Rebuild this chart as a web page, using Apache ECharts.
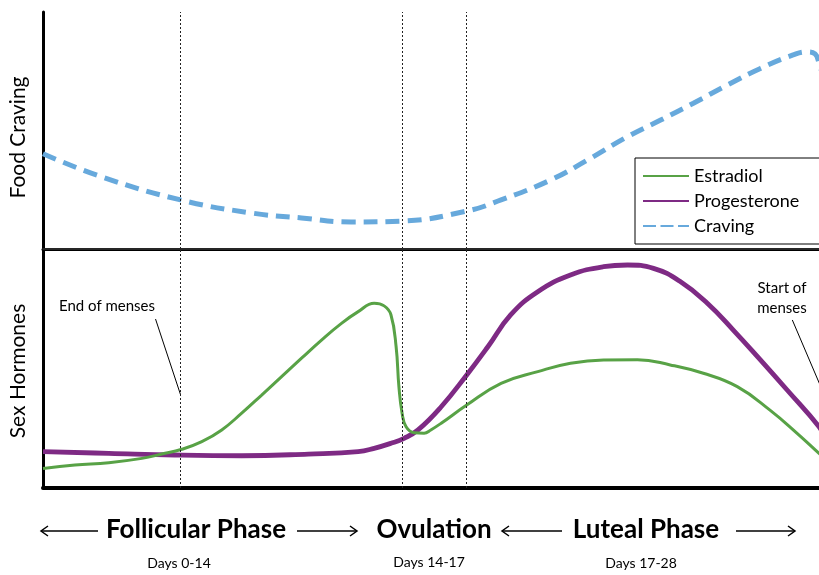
<!DOCTYPE html>
<html>
<head>
<meta charset="utf-8">
<script src="https://cdn.jsdelivr.net/npm/echarts@6/dist/echarts.min.js"></script>
<style>
html,body{margin:0;padding:0;background:#fff;overflow:hidden;width:819px;height:575px;}
#chart{width:841px;height:575px;}
</style>
</head>
<body>
<div id="chart"></div>
<script>
// Cycle position (arbitrary units 0-100 across the plot)
var cravingX = [0, 7.4, 17.25, 26.1, 32.4, 38.6, 45, 53.1, 57.4, 63.6, 68.25, 73.25, 77.4, 81.5, 85.75, 89.9, 94.0, 95.75, 96.75, 97.25, 98.0, 99.0];
var cravingY = [40.2, 30.4, 20.7, 15.2, 13.1, 11.4, 11.8, 16.0, 20.7, 29.1, 37.6, 47.4, 54.4, 61.5, 69.2, 76.2, 81.9, 83.2, 82.3, 78.4, 70.0, 60.0];

var estradiolX = [0, 4.0, 8.25, 12.4, 14.9, 17.4, 19.9, 22.4, 24.9, 27.4, 29.9, 32.4, 34.9, 37.4, 39.5, 41.5, 42.75, 43.6, 44.25, 44.6, 45.0, 45.5, 46.5, 47.75, 48.6, 49.9, 53.1, 57.4, 62.0, 66.1, 70.25, 74.5, 78.6, 82.75, 87.0, 91.1, 94.5, 97.25, 98.6];
var estradiolY = [8.2, 9.6, 10.6, 12.4, 14.2, 16.2, 19.4, 24.3, 31.3, 38.9, 46.6, 54.3, 61.9, 68.9, 73.8, 77.3, 76.2, 72.5, 59.1, 42.4, 31.3, 25.6, 23.1, 22.9, 24.3, 27.1, 34.7, 43.8, 48.7, 52.2, 53.6, 53.7, 51.5, 48.0, 42.4, 32.6, 22.9, 14.5, 10.5];

var progesteroneX = [0, 8.25, 16.5, 24.9, 33.25, 39.5, 41.5, 43.6, 45.25, 47.0, 49.9, 53.1, 55.75, 58.6, 62.0, 66.1, 70.25, 73.25, 76.5, 79.9, 83.25, 86.5, 89.9, 93.25, 97.25, 98.6];
var progesteroneY = [15.2, 14.5, 13.8, 13.5, 14.2, 15.2, 16.6, 18.7, 20.8, 24.3, 34.0, 47.3, 59.1, 72.4, 82.1, 89.1, 92.6, 93.3, 91.9, 86.3, 77.3, 66.1, 53.6, 41.0, 25.6, 18.0];

// Phase boundaries (dotted lines)
var boundaries = [17.25, 45, 53.1];

var phaseLabels = ['Follicular Phase', 'Ovulation', 'Luteal Phase'];
var dayLabels = ['Days 0-14', 'Days 14-17', 'Days 17-28'];
var seriesNames = ['Estradiol', 'Progesterone', 'Craving'];
var axisNames = ['Food Craving', 'Sex Hormones'];

function pairs(xs, ys) { return xs.map(function (x, i) { return [x, ys[i]]; }); }

var GREEN = '#58a246', PURPLE = '#7e2a84', BLUE = '#67a9dc';
var FONT = 'Lato';

var chart = echarts.init(document.getElementById('chart'), null, {renderer: 'canvas'});

var vlines = boundaries.map(function (b) { return {xAxis: b}; });
var dottedML = {
  silent: true, symbol: 'none', label: {show: false},
  lineStyle: {type: [2, 2], color: '#222', width: 1},
  data: vlines
};

function arrow(x1, x2, y, headLeft) {
  var hx = headLeft ? x1 : x2;
  var d = headLeft ? 7 : -7;
  return [
    {type: 'line', shape: {x1: x1, y1: y, x2: x2, y2: y}, style: {stroke: '#000', lineWidth: 1.5}},
    {type: 'polyline', shape: {points: [[hx + d, y - 5], [hx, y], [hx + d, y + 5]]}, style: {stroke: '#000', lineWidth: 1.5, fill: null}}
  ];
}

function txt(x, y, s, font) {
  return {type: 'text', style: {x: x, y: y, text: s, font: font, fill: '#000', textAlign: 'center', textVerticalAlign: 'middle'}};
}

var graphics = [].concat(
  arrow(41, 98, 531, true),
  arrow(297, 357, 531, false),
  arrow(502, 562, 531, true),
  arrow(736, 795, 531, false),
  [
    txt(196, 530, phaseLabels[0], 'bold 26px ' + FONT),
    txt(434, 530, phaseLabels[1], 'bold 26px ' + FONT),
    txt(646, 530, phaseLabels[2], 'bold 26px ' + FONT),
    txt(179, 563, dayLabels[0], '14px ' + FONT),
    txt(429, 562, dayLabels[1], '14px ' + FONT),
    txt(641, 563, dayLabels[2], '14px ' + FONT),
    txt(107, 306, 'End of menses', '15px ' + FONT),
    txt(782, 288, 'Start of', '15px ' + FONT),
    txt(782, 308, 'menses', '15px ' + FONT)
  ]
);

var hiddenAxisBits = {axisTick: {show: false}, axisLabel: {show: false}, splitLine: {show: false}};

var option = {
  animation: false,
  backgroundColor: '#fff',
  textStyle: {fontFamily: FONT},
  grid: [
    {left: 41, top: 12, right: 0, height: 237},
    {left: 41, top: 249, right: 0, height: 239}
  ],
  xAxis: [
    Object.assign({type: 'value', gridIndex: 0, min: 0, max: 100, position: 'top',
      axisLine: {lineStyle: {color: '#000', width: 3}}}, hiddenAxisBits),
    Object.assign({type: 'value', gridIndex: 1, min: 0, max: 100, position: 'bottom',
      axisLine: {lineStyle: {color: '#000', width: 4}}}, hiddenAxisBits),
    Object.assign({type: 'value', gridIndex: 1, min: 0, max: 100, position: 'top',
      axisLine: {lineStyle: {color: '#333', width: 1.5}}}, hiddenAxisBits)
  ],
  yAxis: [
    Object.assign({type: 'value', gridIndex: 0, min: 0, max: 100,
      name: axisNames[0], nameLocation: 'middle', nameGap: 14, nameRotate: 90,
      nameTextStyle: {fontSize: 21, color: '#000', fontFamily: FONT, padding: [0, 14, 0, 0]},
      axisLine: {show: true, lineStyle: {color: '#000', width: 3}}}, hiddenAxisBits),
    Object.assign({type: 'value', gridIndex: 1, min: 0, max: 100,
      name: axisNames[1], nameLocation: 'middle', nameGap: 14, nameRotate: 90,
      nameTextStyle: {fontSize: 21, color: '#000', fontFamily: FONT, padding: [0, 5, 0, 0]},
      axisLine: {show: true, lineStyle: {color: '#000', width: 3}}}, hiddenAxisBits)
  ],
  legend: {
    orient: 'vertical', left: 635, top: 158,
    data: [
      {name: seriesNames[0]},
      {name: seriesNames[1]},
      {name: seriesNames[2], lineStyle: {type: [13, 4.5]}}
    ],
    itemWidth: 46, itemHeight: 14, itemGap: 7,
    padding: [9, 75, 9, 7],
    borderColor: '#000', borderWidth: 1, backgroundColor: '#fff',
    itemStyle: {opacity: 0},
    textStyle: {fontSize: 18, color: '#000', fontFamily: FONT}
  },
  series: [
    {
      name: seriesNames[0], type: 'line', xAxisIndex: 1, yAxisIndex: 1,
      data: pairs(estradiolX, estradiolY), smooth: 0.45,
      symbol: 'none', lineStyle: {color: GREEN, width: 3}, itemStyle: {color: GREEN}, z: 4,
      markLine: {
        silent: true, symbol: 'none', label: {show: false},
        lineStyle: {type: 'solid', color: '#000', width: 1},
        data: [
          [{coord: [14.1, 70.7]}, {coord: [17.25, 38.9]}],
          [{coord: [93.9, 70.3]}, {coord: [98.5, 34.3]}]
        ]
      }
    },
    {
      name: seriesNames[1], type: 'line', xAxisIndex: 1, yAxisIndex: 1,
      data: pairs(progesteroneX, progesteroneY), smooth: 0.45,
      symbol: 'none', lineStyle: {color: PURPLE, width: 4.8}, itemStyle: {color: PURPLE}, z: 3,
      markLine: dottedML
    },
    {
      name: seriesNames[2], type: 'line', xAxisIndex: 0, yAxisIndex: 0,
      data: pairs(cravingX, cravingY), smooth: 0.45,
      symbol: 'none', lineStyle: {color: BLUE, width: 5, type: [14, 8]}, itemStyle: {color: BLUE}, z: 3,
      markLine: dottedML
    }
  ],
  graphic: graphics
};

chart.setOption(option);
</script>
</body>
</html>
